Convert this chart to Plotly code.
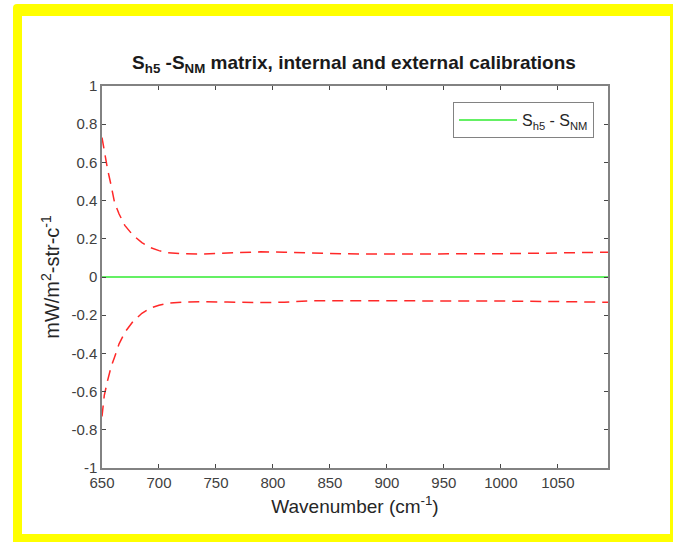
import plotly.graph_objects as go

# Wavenumber grid (cm^-1) and the calibration uncertainty envelope (mW/m^2-str-cm^-1)
wavenumber = [650, 652, 655, 658, 661, 665, 670, 677, 685, 692, 700, 707, 720, 736,
              760, 789, 810, 832, 860, 885, 920, 955, 1000, 1040, 1072, 1094]
upper_bound = [0.73, 0.66, 0.56, 0.48, 0.39, 0.33, 0.27, 0.22, 0.18, 0.155, 0.138, 0.128,
               0.122, 0.120, 0.125, 0.132, 0.130, 0.125, 0.122, 0.120, 0.120, 0.120,
               0.122, 0.125, 0.126, 0.130]
lower_bound = [-0.73, -0.62, -0.54, -0.47, -0.42, -0.35, -0.29, -0.234, -0.19, -0.164,
               -0.148, -0.138, -0.132, -0.129, -0.131, -0.134, -0.132, -0.125, -0.124,
               -0.124, -0.124, -0.124, -0.126, -0.128, -0.130, -0.132]
difference = [0.0] * len(wavenumber)

x_ticks = [650, 700, 750, 800, 850, 900, 950, 1000, 1050]
y_ticks = [-1, -0.8, -0.6, -0.4, -0.2, 0, 0.2, 0.4, 0.6, 0.8, 1]
y_ticklabels = ["-1", "-0.8", "-0.6", "-0.4", "-0.2", "0", "0.2", "0.4", "0.6", "0.8", "1"]

W, H = 673, 542
L, R, T, B = 102, 608, 86, 468  # plot area in pixels
FONT = "Liberation Sans, Arial, sans-serif"


def px(p):
    return (p - L) / (R - L)


def py(p):
    return (B - p) / (B - T)


fig = go.Figure()
fig.add_trace(go.Scatter(x=wavenumber, y=upper_bound, mode="lines",
                         line=dict(color="rgb(255,40,40)", width=1.5, dash="11px,7px"),
                         showlegend=False, hoverinfo="skip"))
fig.add_trace(go.Scatter(x=wavenumber, y=lower_bound, mode="lines",
                         line=dict(color="rgb(255,40,40)", width=1.5, dash="11px,7px"),
                         showlegend=False, hoverinfo="skip"))
fig.add_trace(go.Scatter(x=wavenumber, y=difference, mode="lines",
                         line=dict(color="rgb(100,240,100)", width=2),
                         name="S<sub>h5</sub> - S<sub>NM</sub>"))

# yellow frame with a rounded outer corner, white panel inside
r = 4
x0, y0 = px(13), py(4)
x1, y1 = px(690), py(560)
frame_path = (f"M {px(13 + r)},{y0} L {x1},{y0} L {x1},{y1} L {x0},{y1} "
              f"L {x0},{py(4 + r)} Q {x0},{y0} {px(13 + r)},{y0} Z")
shapes = [
    dict(type="path", xref="paper", yref="paper", path=frame_path,
         fillcolor="#ffff00", line=dict(width=0), layer="below"),
    dict(type="rect", xref="paper", yref="paper", x0=px(22), x1=px(670),
         y0=py(534), y1=py(16), fillcolor="white", line=dict(width=0), layer="below"),
]

axis_common = dict(
    showgrid=False, zeroline=False, showline=True, linecolor="rgb(130,130,130)",
    linewidth=1.5, mirror="ticks", ticks="inside", ticklen=4, tickwidth=1,
    tickcolor="rgb(70,70,70)",
    tickfont=dict(family=FONT, size=15, color="#404040"),
)

fig.update_layout(
    width=W, height=H,
    margin=dict(l=L, r=W - R, t=T, b=H - B),
    paper_bgcolor="white", plot_bgcolor="white",
    shapes=shapes,
    title=dict(text="<b>S<sub>h5</sub> -S<sub>NM</sub> matrix, internal and external calibrations</b>",
               x=px(354), xanchor="center", xref="paper", y=1 - 62 / H, yanchor="middle",
               font=dict(family=FONT, size=19, color="#1a1a1a")),
    xaxis=dict(range=[650, 1094], tickvals=x_ticks, ticktext=[str(v) for v in x_ticks],
               title=dict(text="Wavenumber (cm<sup>-1</sup>)", standoff=10,
                          font=dict(family=FONT, size=19, color="#262626")),
               **axis_common),
    yaxis=dict(range=[-1, 1], tickvals=y_ticks, ticktext=y_ticklabels,
               title=dict(text="mW/m<sup>2</sup>-str-c<sup>-1</sup>", standoff=6,
                          font=dict(family=FONT, size=20, color="#262626")),
               **axis_common),
    legend=dict(x=px(594), xanchor="right", y=py(102), yanchor="top",
                bgcolor="white", bordercolor="rgb(130,130,130)", borderwidth=1,
                itemwidth=58,
                font=dict(family=FONT, size=16, color="#262626")),
    showlegend=True,
)

fig.write_html("out.html")
